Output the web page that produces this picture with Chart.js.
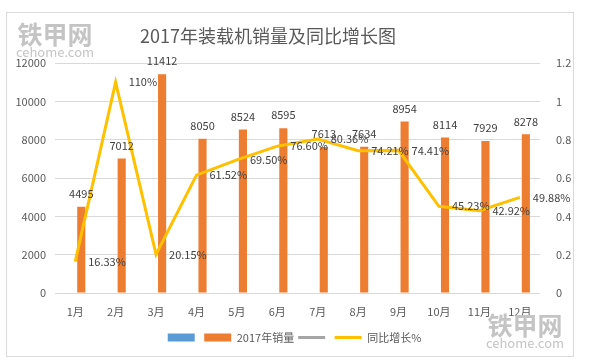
<!DOCTYPE html>
<html>
<head>
<meta charset="utf-8">
<script src="https://cdn.jsdelivr.net/npm/chart.js@4.4.0/dist/chart.umd.min.js"></script>
<style>
  html, body { margin: 0; padding: 0; background: #fff; }
  #wrap { position: relative; width: 589px; height: 360px; overflow: hidden; font-family: "Noto Sans CJK SC", sans-serif; }
  #frame { position: absolute; left: 6px; top: 12px; width: 568px; height: 345px; border: 1px solid #d9d9d9; box-sizing: border-box; }
  #title { position: absolute; left: 0; width: 536px; top: 21px; text-align: center; font-size: 18px; color: #595959; line-height: 28px; }
  .mark { position: absolute; color: #c4c4c4; text-align: center; white-space: nowrap; }
  .mark .big { font-size: 25px; font-weight: bold; line-height: 26px; }
  .mark .small { font-size: 13px; line-height: 12px; }
  canvas { position: absolute; left: 0; top: 0; }
</style>
</head>
<body>
<div id="wrap">
  <div id="frame"></div>
  <canvas id="chart" width="589" height="360"></canvas>
  <div id="title">2017年装载机销量及同比增长图</div>
  <div class="mark" style="left:15px; top:20px; width:80px;"><div class="big">铁甲网</div><div class="small">cehome.com</div></div>
  <div class="mark" style="left:485px; top:311px; width:80px;"><div class="big">铁甲网</div><div class="small">cehome.com</div></div>
</div>
<script>
const months = ['1月', '2月', '3月', '4月', '5月', '6月', '7月', '8月', '9月', '10月', '11月', '12月'];
const sales = [4495, 7012, 11412, 8050, 8524, 8595, 7613, 7634, 8954, 8114, 7929, 8278];
const growth = [0.1633, 1.10, 0.2015, 0.6152, 0.6950, 0.7660, 0.8036, 0.7421, 0.7441, 0.4523, 0.4292, 0.4988];
const growthText = ['16.33%', '110%', '20.15%', '61.52%', '69.50%', '76.60%', '80.36%', '74.21%', '74.41%', '45.23%', '42.92%', '49.88%'];

const FONT = '"Noto Sans CJK SC", sans-serif';
const GREY = '#595959';

// value labels: above bars, right of line points
const valueLabels = {
    id: 'valueLabels',
    afterDatasetsDraw(chart) {
        const ctx = chart.ctx;
        ctx.save();
        ctx.font = '11px ' + FONT;
        ctx.fillStyle = '#404040';
        ctx.textBaseline = 'middle';
        ctx.textAlign = 'center';
        chart.getDatasetMeta(1).data.forEach((bar, i) => {
            ctx.fillText(sales[i], bar.x, bar.y - 13);
        });
        ctx.textAlign = 'left';
        chart.getDatasetMeta(3).data.forEach((pt, i) => {
            ctx.fillText(growthText[i], pt.x + 13, pt.y);
        });
        ctx.restore();
    }
};

new Chart(document.getElementById('chart'), {
    type: 'bar',
    data: {
        labels: months,
        datasets: [
            { type: 'bar', label: '', data: [], backgroundColor: '#5B9BD5', yAxisID: 'y', order: 2 },
            { type: 'bar', label: '2017年销量', data: sales, backgroundColor: '#ED7D31', yAxisID: 'y', order: 2 },
            { type: 'line', label: '', data: [], borderColor: '#A5A5A5', yAxisID: 'y1', order: 1 },
            { type: 'line', label: '同比增长%', data: growth, borderColor: '#FFC000', borderWidth: 3,
              pointRadius: 0, tension: 0, yAxisID: 'y1', order: 1 }
        ]
    },
    options: {
        responsive: false,
        animation: false,
        layout: { padding: { top: 63, left: 0, right: 0, bottom: 7 } },
        datasets: { bar: { categoryPercentage: 0.6, barPercentage: 0.67 } },
        scales: {
            x: {
                grid: { display: false },
                border: { display: false },
                ticks: { color: GREY, font: { size: 11, family: FONT }, padding: 4 },
                afterFit: (s) => { s.height = 35; }
            },
            y: {
                position: 'left',
                min: 0, max: 12000,
                ticks: { stepSize: 2000, color: GREY, font: { size: 11, family: FONT }, padding: 9,
                         callback: (v) => String(v) },
                grid: { color: '#d9d9d9', drawTicks: false },
                border: { display: false },
                afterFit: (s) => { s.width = 55; }
            },
            y1: {
                position: 'right',
                min: 0, max: 1.2,
                ticks: { stepSize: 0.2, color: GREY, font: { size: 11, family: FONT }, padding: 8,
                         callback: (v) => String(Math.round(v * 10) / 10) },
                grid: { display: false },
                border: { display: false },
                afterFit: (s) => { s.width = 49; }
            }
        },
        plugins: {
            tooltip: { enabled: false },
            legend: {
                position: 'bottom',
                labels: {
                    usePointStyle: true,
                    pointStyleWidth: 27,
                    boxHeight: 8,
                    padding: 4,
                    color: GREY,
                    font: { size: 11, family: FONT },
                    generateLabels(chart) {
                        return chart.data.datasets.map((ds, i) => {
                            const isLine = ds.type === 'line';
                            const c = isLine ? ds.borderColor : ds.backgroundColor;
                            return {
                                text: ds.label,
                                fillStyle: c,
                                strokeStyle: c,
                                lineWidth: isLine ? 3 : 0,
                                pointStyle: isLine ? 'line' : 'rect',
                                fontColor: GREY,
                                hidden: false,
                                datasetIndex: i
                            };
                        });
                    }
                }
            }
        }
    },
    plugins: [valueLabels]
});
</script>
</body>
</html>
